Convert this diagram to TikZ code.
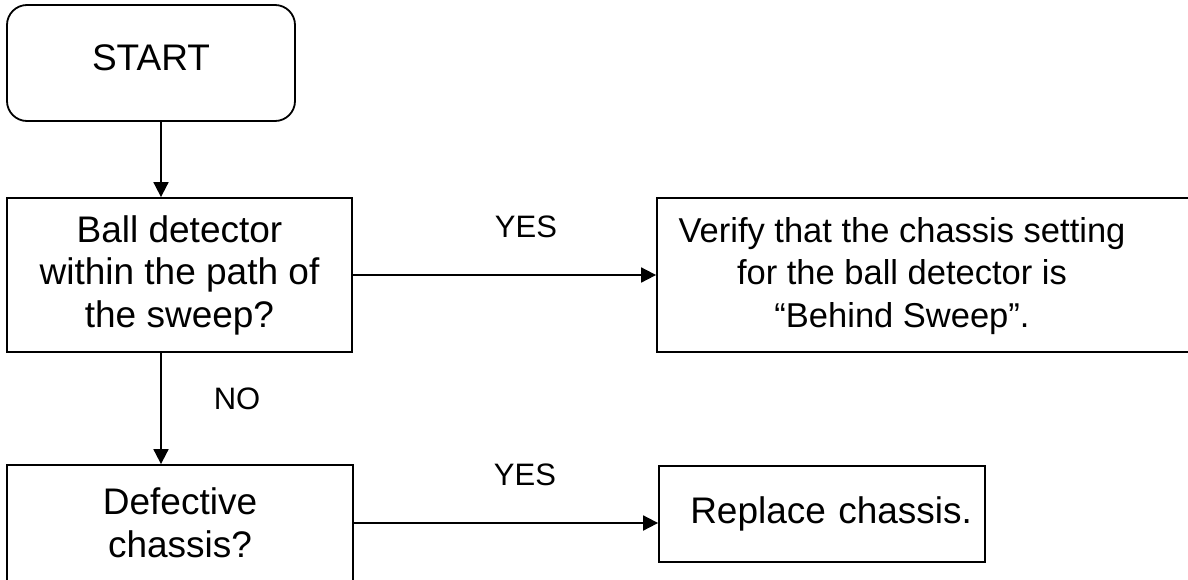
\documentclass[tikz,border=0pt]{standalone}
\usepackage{fontspec}
\setmainfont{Liberation Sans}
\usetikzlibrary{arrows.meta,fit}
\begin{document}
\begin{tikzpicture}[x=1pt,y=-1pt,
  line width=1.8pt,
  bigfont/.style={font=\fontsize{37}{42.5}\selectfont},
  midfont/.style={font=\fontsize{34.5}{42.5}\selectfont},
  boxtext/.style={bigfont, align=center},
  box/.style={draw, rectangle, inner sep=0pt, boxtext},
  lbl/.style={font=\fontsize{31}{36}\selectfont, inner sep=0pt},
  arr/.style={-{Triangle[length=15pt,width=15pt]}}]
\useasboundingbox (0,0) rectangle (1188,579);
\begin{scope}
\clip (0,0) rectangle (1188,579);
% START
\node[draw, rectangle, rounded corners=20pt, bigfont, inner sep=0pt,
      minimum width=288pt, text height=65pt, text depth=51pt] (start) at (151,63) {START};
% decision 1
\node[box, minimum width=345pt, minimum height=154pt] (ball) at (179.5,275)
  {Ball detector\\within the path of\\the sweep?};
% verify box
\node[draw, rectangle, inner sep=0pt, fit={(657,198) (1200,352)}] (verify) {};
\node[midfont, align=center, inner sep=0pt] (verifytext) at (902,276)
  {Verify that the chassis setting\\for the ball detector is\\“Behind Sweep”.};
% decision 2
\node[box, minimum width=346pt, minimum height=116pt] (defect) at (180,523)
  {Defective\\chassis?};
% replace
\node[draw, rectangle, bigfont, inner ysep=0pt, inner xsep=13pt, text width=300pt,
      align=right, minimum height=96pt] (replace) at (822,514) {Replace chassis.};
% connectors
\coordinate (vx) at (161,0);
\draw[arr] (start.south -| vx) -- (ball.north -| vx);
\draw[arr] (ball.east) -- (verify.west);
\draw[arr] (ball.south -| vx) -- (defect.north -| vx);
\draw[arr] (defect.east) -- (defect.east -| replace.west);
% labels
\node[lbl] (yes1) at (526,227) {YES};
\node[lbl] (no1) at (237,399) {NO};
\node[lbl] (yes2) at (525,475) {YES};
\end{scope}
\end{tikzpicture}
\end{document}
